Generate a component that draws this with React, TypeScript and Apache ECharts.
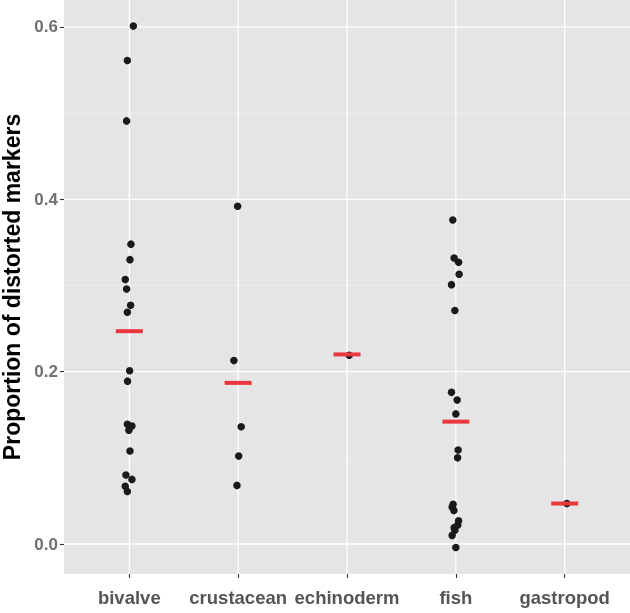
import React, { useEffect, useRef } from "react";
import * as echarts from "echarts";

const categories = ["bivalve", "crustacean", "echinoderm", "fish", "gastropod"];

const bivalveValues = [0.601, 0.561, 0.491, 0.348, 0.33, 0.307, 0.296, 0.277, 0.269, 0.201, 0.189, 0.139, 0.137, 0.132, 0.108, 0.08, 0.075, 0.067, 0.061];
const bivalveJitter = [0.037, -0.018, -0.025, 0.015, 0.006, -0.037, -0.025, 0.012, -0.018, 0.003, -0.016, -0.018, 0.024, -0.004, 0.006, -0.031, 0.024, -0.037, -0.018];

const crustaceanValues = [0.392, 0.213, 0.136, 0.102, 0.068];
const crustaceanJitter = [-0.005, -0.039, 0.028, 0.005, -0.011];

const echinodermValues = [0.219];
const echinodermJitter = [0.02];

const fishValues = [0.376, 0.332, 0.327, 0.313, 0.301, 0.271, 0.176, 0.167, 0.151, 0.109, 0.1, 0.046, 0.043, 0.039, 0.027, 0.022, 0.019, 0.016, 0.01, -0.004];
const fishJitter = [-0.028, -0.016, 0.025, 0.03, -0.04, -0.009, -0.04, 0.012, 0, 0.021, 0.016, -0.025, -0.034, -0.018, 0.025, 0.018, -0.016, -0.009, -0.034, 0];

const gastropodValues = [0.047];
const gastropodJitter = [0.02];

const meanValues = [0.247, 0.187, 0.22, 0.142, 0.047];

const yTicks = [0, 0.2, 0.4, 0.6];
const yMinor = [0.1, 0.3, 0.5];
const yMin = -0.0348;
const yMax = 0.6313;
const xMin = 0.4;
const xMax = 5.6;
const xTicks = [1, 2, 3, 4, 5];

const groups = [
  [bivalveValues, bivalveJitter],
  [crustaceanValues, crustaceanJitter],
  [echinodermValues, echinodermJitter],
  [fishValues, fishJitter],
  [gastropodValues, gastropodJitter],
];

export default function App() {
  const ref = useRef<HTMLDivElement>(null);
  useEffect(() => {
    if (!ref.current) return;
    const chart = echarts.init(ref.current, null, { renderer: "svg" });
    const points: number[][] = [];
    groups.forEach(([vals, jit], i) => {
      (vals as number[]).forEach((v, k) => points.push([i + 1 + (jit as number[])[k], v]));
    });
    const means = meanValues.map((m, i) => [i + 1, m]);
    const font = "'Liberation Sans', Arial, Helvetica, sans-serif";

    const gridLine = (data: number[][], color: string, width: number) => ({
      type: "line",
      data,
      symbol: "none",
      silent: true,
      z: 1,
      lineStyle: { color, width, type: "solid" },
      itemStyle: { opacity: 0 },
    });

    const gridSeries = [
      ...yMinor.map((v) => gridLine([[xMin, v], [xMax, v]], "#F2F2F2", 0.6)),
      ...yTicks.map((v) => gridLine([[xMin, v], [xMax, v]], "#FFFFFF", 1.3)),
      ...xTicks.map((v) => gridLine([[v, yMin], [v, yMax]], "#FFFFFF", 1.3)),
    ];

    chart.setOption({
      animation: false,
      grid: {
        left: 64,
        right: 0,
        top: 0,
        bottom: 39,
        show: true,
        backgroundColor: "#E5E5E5",
        borderWidth: 0,
        containLabel: false,
        outerBoundsMode: "none",
      },
      xAxis: {
        type: "value",
        min: xMin,
        max: xMax,
        axisLine: { show: false, onZero: false },
        splitLine: { show: false },
        axisTick: {
          show: true,
          customValues: xTicks,
          length: 4,
          lineStyle: { color: "#333333", width: 1.1 },
        },
        axisLabel: {
          customValues: xTicks,
          formatter: (v: number) => categories[Math.round(v) - 1] ?? "",
          color: "#555555",
          fontSize: 18.5,
          fontWeight: "bold",
          fontFamily: font,
          margin: 14,
        },
      },
      yAxis: {
        type: "value",
        min: yMin,
        max: yMax,
        name: "Proportion of distorted markers",
        nameLocation: "middle",
        nameGap: 36,
        nameTextStyle: {
          color: "#000000",
          fontSize: 23,
          fontWeight: "bold",
          fontFamily: font,
        },
        axisLine: { show: false, onZero: false },
        splitLine: { show: false },
        axisTick: {
          show: true,
          customValues: yTicks,
          length: 4,
          lineStyle: { color: "#333333", width: 1.1 },
        },
        axisLabel: {
          customValues: yTicks,
          formatter: (v: number) => v.toFixed(1),
          color: "#707070",
          fontSize: 17,
          fontWeight: "bold",
          fontFamily: font,
          margin: 6,
        },
      },
      series: [
        ...gridSeries,
        {
          type: "scatter",
          data: points,
          symbol: "circle",
          symbolSize: 7.5,
          itemStyle: { color: "#1A1A1A", opacity: 1 },
          z: 3,
        },
        {
          type: "scatter",
          data: means,
          symbol: "rect",
          symbolSize: [27, 4],
          itemStyle: { color: "#E8383D", opacity: 1 },
          z: 4,
        },
      ],
    });
    return () => chart.dispose();
  }, []);
  return <div ref={ref} style={{ position: "fixed", left: 0, top: 0, width: 630, height: 613 }} />;
}
